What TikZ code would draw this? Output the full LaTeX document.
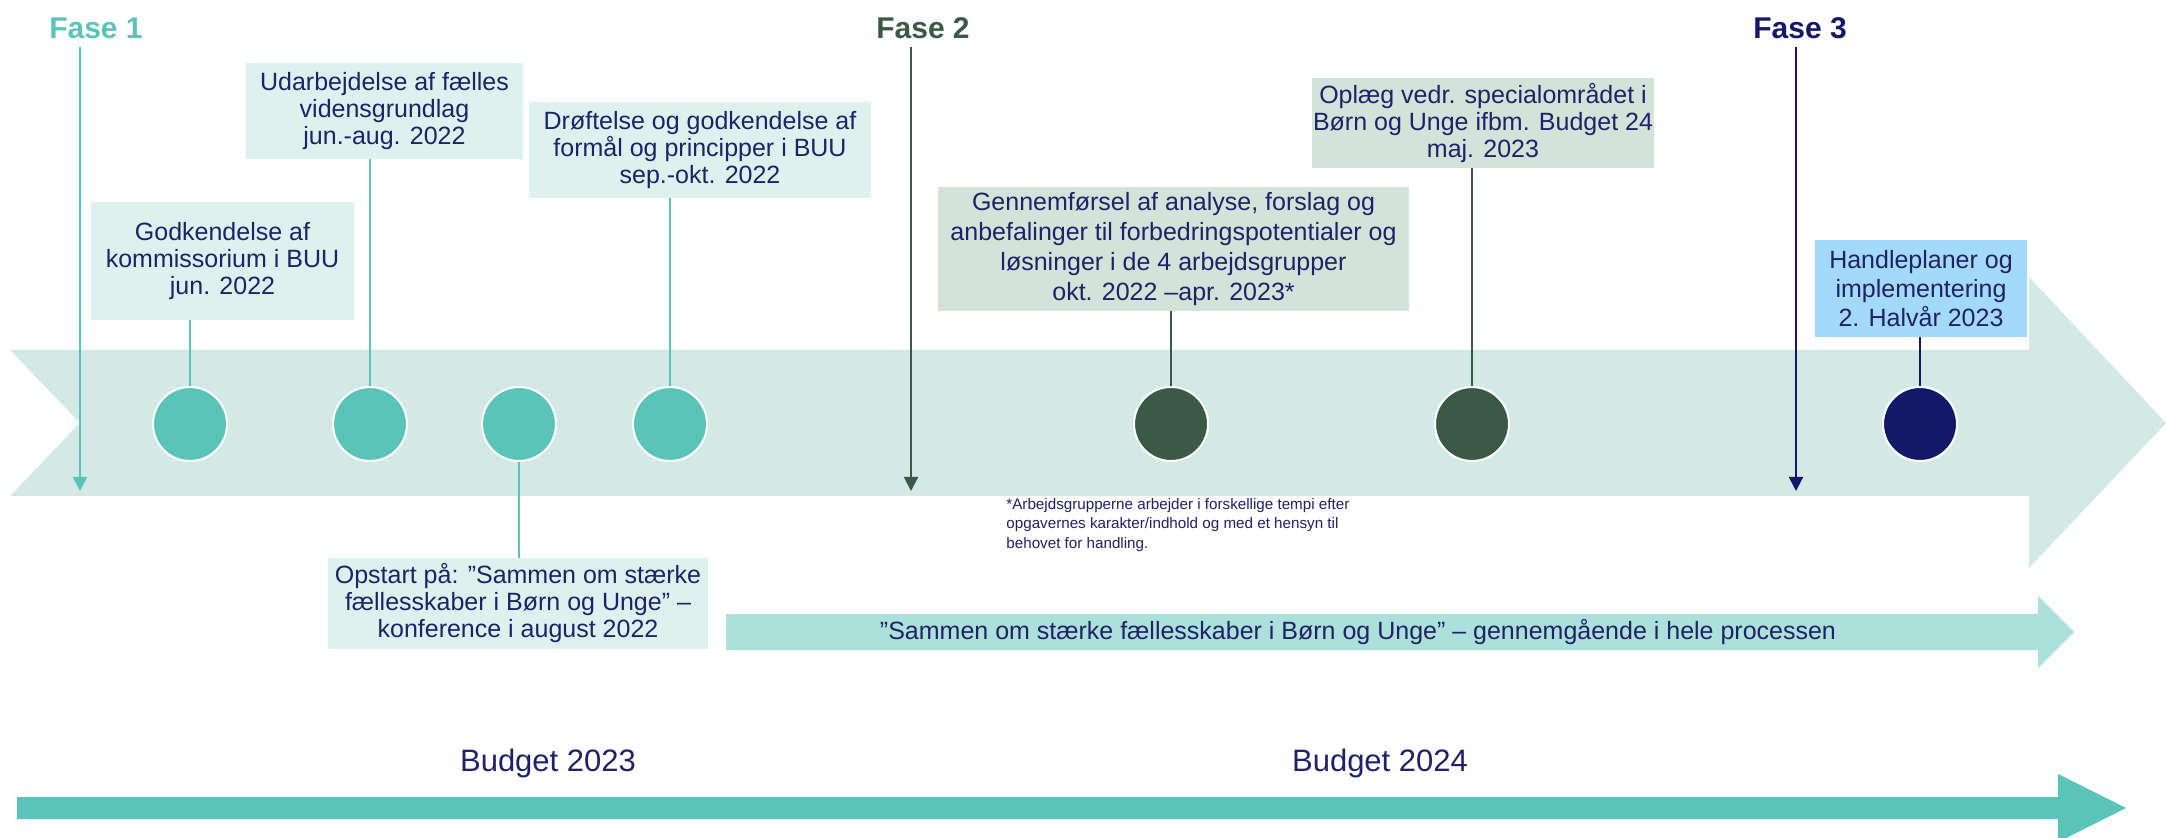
\documentclass[tikz,border=0pt]{standalone}
\usepackage{fontspec}
\setmainfont{Liberation Sans}
\usetikzlibrary{arrows.meta}
\definecolor{baand}{HTML}{D3E9E5}
\definecolor{fase1}{HTML}{5BC4B8}
\definecolor{fase2}{HTML}{3A5A45}
\definecolor{fase3}{HTML}{151868}
\definecolor{tekst}{HTML}{1F2266}
\definecolor{lysteal}{HTML}{DFF1EF}
\definecolor{lysgroen}{HTML}{D3E3DA}
\definecolor{lysblaa}{HTML}{A3DAFB}
\definecolor{sammen}{HTML}{ACE0DA}
\newcommand{\milepael}[3]% name, x, colour
{\node[circle,fill=#3,draw=white,line width=1pt,minimum size=37pt,inner sep=0pt] (#1) at (#2,424) {};
}

\begin{document}
\begin{tikzpicture}[x=0.5pt,y=-0.5pt,
  boks/.style={fill=#1,text=tekst,align=center,inner sep=0pt,font=\fontsize{12.5}{13.5}\selectfont},
  fase/.style={font=\fontsize{15}{18}\selectfont\bfseries,inner sep=0pt},
  faselinje/.style={line width=1pt,-{Triangle[length=7pt,width=7pt]}},
  streg/.style={line width=1pt}]
\useasboundingbox (0,0) rectangle (2166,838);
% the big process arrow
\fill[baand] (10,350) -- (2029,350) -- (2029,277) -- (2166,423) -- (2029,568)
  -- (2029,496) -- (10,496) -- (80,423) -- cycle;
% milestones
\milepael{c1}{190}{fase1}
\milepael{c2}{370}{fase1}
\milepael{c3}{519}{fase1}
\milepael{c4}{670}{fase1}
\milepael{c5}{1171}{fase2}
\milepael{c6}{1472}{fase2}
\milepael{c7}{1920}{fase3}
% boxes
\node[boks=lysteal,minimum width=131.5pt,minimum height=59pt] (kommis) at (222.5,261)
  {Godkendelse af\\kommissorium i BUU\\jun. 2022};
\node[boks=lysteal,minimum width=138.5pt,minimum height=48pt] (viden) at (384.5,111)
  {Udarbejdelse af fælles\\vidensgrundlag\\jun.-aug. 2022};
\node[boks=lysteal,minimum width=171pt,minimum height=48pt] (formaal) at (700,150)
  {Drøftelse og godkendelse af\\formål og principper i BUU\\sep.-okt. 2022};
\node[boks=lysteal,minimum width=190pt,minimum height=45.5pt] (opstart) at (518,603.5)
  {Opstart på: ”Sammen om stærke\\fællesskaber i Børn og Unge” –\\konference i august 2022};
\node[boks=lysgroen,minimum width=235.5pt,minimum height=62pt,font=\fontsize{12.5}{15}\selectfont] (analyse) at (1173.5,249)
  {Gennemførsel af analyse, forslag og\\anbefalinger til forbedringspotentialer og\\løsninger i de 4 arbejdsgrupper\\okt. 2022 –apr. 2023*};
\node[boks=lysgroen,minimum width=171pt,minimum height=45pt] (oplaeg) at (1483,123)
  {Oplæg vedr. specialområdet i\\Børn og Unge ifbm. Budget 24\\maj. 2023};
\node[boks=lysblaa,minimum width=106pt,minimum height=48.5pt,font=\fontsize{12.5}{14.5}\selectfont] (handle) at (1921,288.5)
  {Handleplaner og\\implementering\\2. Halvår 2023};
% box to milestone
\draw[streg,fase1] (kommis.south -| c1) -- (c1);
\draw[streg,fase1] (viden.south -| c2) -- (c2);
\draw[streg,fase1] (c3) -- (opstart.north -| c3);
\draw[streg,fase1] (formaal.south -| c4) -- (c4);
\draw[streg,fase2] (analyse.south -| c5) -- (c5);
\draw[streg,fase2] (oplaeg.south -| c6) -- (c6);
\draw[streg,fase3] (handle.south -| c7) -- (c7);
% phases
\node[fase,text=fase1] (f1) at (96,28) {Fase 1};
\node[fase,text=fase2] (f2) at (923,28) {Fase 2};
\node[fase,text=fase3] (f3) at (1800,28) {Fase 3};
\coordinate (f1top) at (80,47);   \coordinate (f1bund) at (80,491);
\coordinate (f2top) at (911,47);  \coordinate (f2bund) at (911,491);
\coordinate (f3top) at (1796,47); \coordinate (f3bund) at (1796,491);
\draw[faselinje,fase1] (f1top) -- (f1bund);
\draw[faselinje,fase2] (f2top) -- (f2bund);
\draw[faselinje,fase3] (f3top) -- (f3bund);
% footnote
\node[anchor=north west,align=left,inner sep=0pt,text=tekst,font=\fontsize{7.6}{9.75}\selectfont] (note) at (1006,498)
  {*Arbejdsgrupperne arbejder i forskellige tempi efter\\opgavernes karakter/indhold og med et hensyn til\\behovet for handling.};
% running arrow
\fill[sammen] (726,614) -- (2038,614) -- (2038,596) -- (2074,632) -- (2038,668) -- (2038,650) -- (726,650) -- cycle;
\node[text=tekst,inner sep=0pt,font=\fontsize{12.5}{15}\selectfont] (proces) at (1358,632)
  {”Sammen om stærke fællesskaber i Børn og Unge” – gennemgående i hele processen};
% budget arrow
\fill[fase1] (17,797) -- (2058,797) -- (2058,774) -- (2126,808) -- (2058,842) -- (2058,819) -- (17,819) -- cycle;
\node[text=tekst,inner sep=0pt,font=\fontsize{15.5}{18}\selectfont] (b23) at (548,763) {Budget 2023};
\node[text=tekst,inner sep=0pt,font=\fontsize{15.5}{18}\selectfont] (b24) at (1380,763) {Budget 2024};
\end{tikzpicture}
\end{document}
